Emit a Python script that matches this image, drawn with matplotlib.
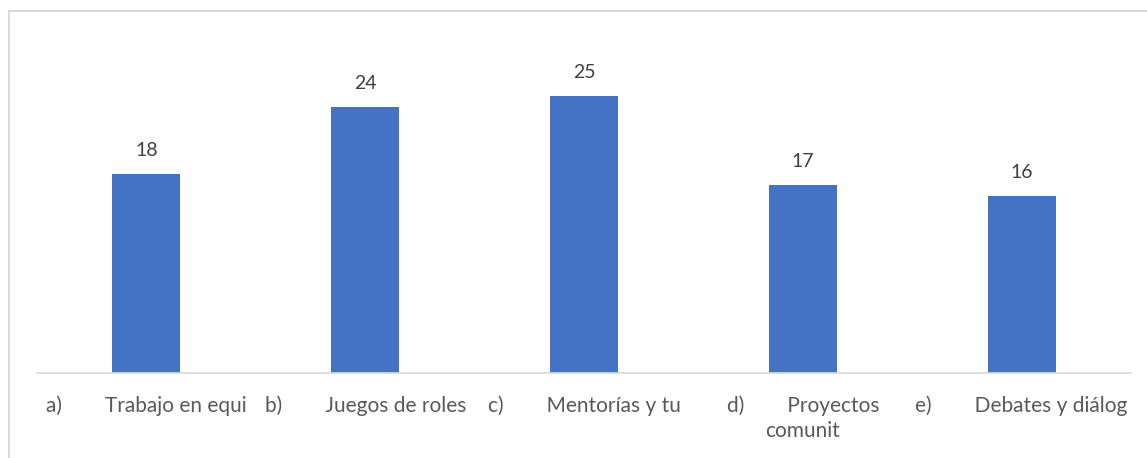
import matplotlib
matplotlib.use("Agg")
import matplotlib.pyplot as plt
from matplotlib.lines import Line2D

plt.rcParams["font.family"] = ["Lato", "DejaVu Sans"]

labels = [
    "a)" + " " * 8 + "Trabajo en equi",
    "b)" + " " * 8 + "Juegos de roles",
    "c)" + " " * 8 + "Mentorías y tu",
    "d)" + " " * 8 + "Proyectos\ncomunit",
    "e)" + " " * 8 + "Debates y diálog",
]
values = [18, 24, 25, 17, 16]

W, H = 1147, 458
fig = plt.figure(figsize=(W / 100, H / 100), dpi=100)
ax = fig.add_axes([37 / W, 1 - 373 / H, (1131 - 37) / W, (373 - 41) / H])

x = range(len(values))
bars = ax.bar(x, values, width=0.31, color="#4472C4", zorder=2)
for b, v in zip(bars, values):
    ax.annotate(str(v), (b.get_x() + b.get_width() / 2, v), xytext=(0, 11),
                textcoords="offset points", ha="center", va="bottom",
                fontsize=14, color="#404040")

ax.set_xlim(-0.5, len(values) - 0.5)
ax.set_ylim(0, 30)
ax.set_xticks(list(x))
ax.set_xticklabels(labels, fontsize=15, color="#595959", ha="center",
                   va="top", linespacing=1.35)
ax.tick_params(axis="x", length=0, pad=16)
ax.set_yticks([])
for s in ["top", "right", "left"]:
    ax.spines[s].set_visible(False)
ax.spines["bottom"].set_color("#d9d9d9")
ax.spines["bottom"].set_linewidth(1.2)

# outer chart frame (cropped at right and bottom)
fig.add_artist(Line2D([8.5 / W, 8.5 / W], [0, 1 - 11 / H], color="#d9d9d9", lw=1.5))
fig.add_artist(Line2D([8.5 / W, 1], [1 - 11 / H, 1 - 11 / H], color="#d9d9d9", lw=1.5))

fig.savefig("out.png", dpi=100)
